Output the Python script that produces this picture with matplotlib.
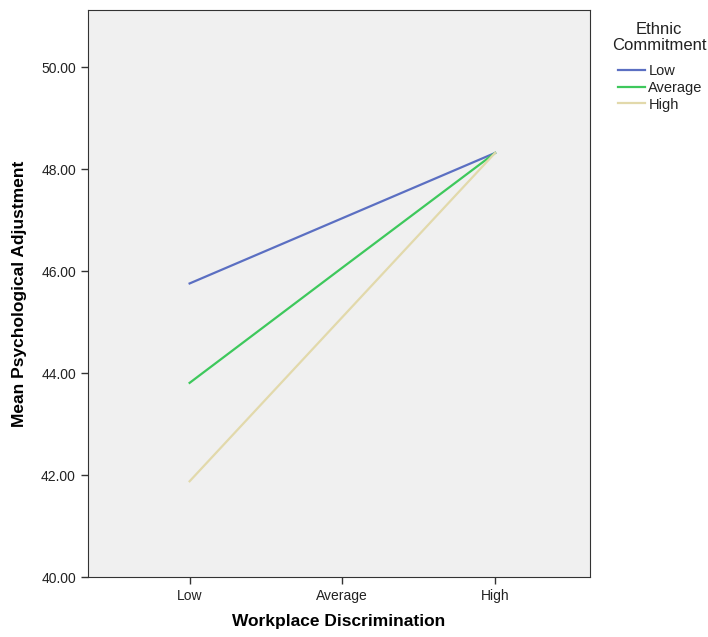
import matplotlib.pyplot as plt

# data
discrimination = ['Low', 'Average', 'High']
commitment = ['Low', 'Average', 'High']
adj_low = [45.76, 47.04, 48.32]
adj_average = [43.81, 46.07, 48.32]
adj_high = [41.88, 45.10, 48.32]
colors = ['#5b6fc2', '#3ec85c', '#e2d9ab']

plt.rcParams['font.family'] = ['Liberation Sans', 'DejaVu Sans']

fig = plt.figure(figsize=(7.08, 6.37), dpi=100)
ax = fig.add_axes([0.124, 0.094, 0.709, 0.890])
ax.set_facecolor('#f0f0f0')

x = [1, 2, 3]
for vals, name, c in zip([adj_low, adj_average, adj_high], commitment, colors):
    ax.plot(x, vals, color=c, lw=1.6, label=name)

ax.set_xlim(1 - 2 / 3, 3 + 0.62)
ax.set_ylim(40, 51.12)
ax.set_xticks(x)
ax.set_xticklabels(discrimination, fontsize=10)
ax.set_yticks([40, 42, 44, 46, 48, 50])
ax.set_yticklabels([f'{v:.2f}' for v in [40, 42, 44, 46, 48, 50]], fontsize=10)
ax.tick_params(length=5, width=1, color='#333333', labelcolor='#222222')
for s in ax.spines.values():
    s.set_color('#333333')
ax.set_xlabel('Workplace Discrimination', fontsize=12.5, fontweight='bold', labelpad=8)
ax.set_ylabel('Mean Psychological Adjustment', fontsize=12.5, fontweight='bold', labelpad=10)

# legend title drawn on its own so it can sit centred above the entries
fig.text(0.931, 0.966, 'Ethnic\nCommitment', ha='center', va='top',
         multialignment='center', fontsize=12, color='#222222', linespacing=1.15)
fig.legend(loc='upper left', bbox_to_anchor=(0.858, 0.916), frameon=False,
           fontsize=10.5, handlelength=1.9, handletextpad=0.2, labelspacing=0.2,
           borderpad=0.2, labelcolor='#222222')

fig.savefig('out.png', dpi=100)
